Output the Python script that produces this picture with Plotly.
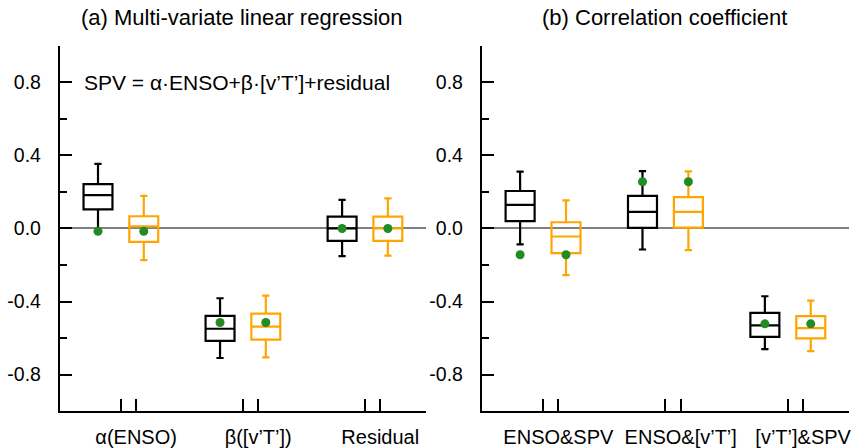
import plotly.graph_objects as go

# ---------------- data ----------------
cats_a = ["α(ENSO)", "β([v’T’])", "Residual"]
cats_b = ["ENSO&SPV", "ENSO&[v’T’]", "[v’T’]&SPV"]

# panel (a) black boxes
a_blk_lo = [-0.015, -0.709, -0.151]
a_blk_q1 = [0.104, -0.615, -0.068]
a_blk_md = [0.182, -0.549, 0.000]
a_blk_q3 = [0.243, -0.478, 0.065]
a_blk_hi = [0.354, -0.382, 0.156]
# panel (a) orange boxes
a_org_lo = [-0.173, -0.706, -0.149]
a_org_q1 = [-0.073, -0.608, -0.068]
a_org_md = [0.011, -0.537, 0.000]
a_org_q3 = [0.067, -0.466, 0.065]
a_org_hi = [0.178, -0.368, 0.165]
# panel (a) observed (green dots)
a_obs = [-0.015, -0.515, 0.000]

# panel (b) black boxes
b_blk_lo = [-0.087, -0.115, -0.660]
b_blk_q1 = [0.040, 0.003, -0.593]
b_blk_md = [0.129, 0.091, -0.531]
b_blk_q3 = [0.205, 0.178, -0.462]
b_blk_hi = [0.311, 0.314, -0.371]
# panel (b) orange boxes
b_org_lo = [-0.255, -0.118, -0.671]
b_org_q1 = [-0.135, 0.005, -0.602]
b_org_md = [-0.044, 0.091, -0.546]
b_org_q3 = [0.034, 0.172, -0.480]
b_org_hi = [0.154, 0.313, -0.395]
# panel (b) observed (green dots)
b_obs = [-0.144, 0.256, -0.522]

y_major = [-0.8, -0.4, 0.0, 0.4, 0.8]
y_labels = ["-0.8", "-0.4", "0.0", "0.4", "0.8"]

# ---------------- layout helpers ----------------
groups = [1, 2, 3]
off = 0.1875
pos_blk = [g - off for g in groups]
pos_org = [g + off for g in groups]
BLACK = "#000000"
ORANGE = "#FFA500"
GREEN = "#228B22"
FONT = "Liberation Sans, Arial, Helvetica, sans-serif"

fig = go.Figure()


def add_box(xs, lo, q1, md, q3, hi, color, xa, ya):
    fig.add_trace(go.Box(
        x=xs, lowerfence=lo, q1=q1, median=md, q3=q3, upperfence=hi,
        width=0.237, whiskerwidth=0.25,
        line=dict(color=color, width=2.2),
        fillcolor="rgba(0,0,0,0)", boxpoints=False,
        hoverinfo="skip", xaxis=xa, yaxis=ya))


add_box(pos_blk, a_blk_lo, a_blk_q1, a_blk_md, a_blk_q3, a_blk_hi, BLACK, "x", "y")
add_box(pos_org, a_org_lo, a_org_q1, a_org_md, a_org_q3, a_org_hi, ORANGE, "x", "y")
add_box(pos_blk, b_blk_lo, b_blk_q1, b_blk_md, b_blk_q3, b_blk_hi, BLACK, "x2", "y2")
add_box(pos_org, b_org_lo, b_org_q1, b_org_md, b_org_q3, b_org_hi, ORANGE, "x2", "y2")

fig.add_trace(go.Scatter(x=pos_blk + pos_org, y=a_obs + a_obs, mode="markers",
                         marker=dict(color=GREEN, size=9), xaxis="x", yaxis="y"))
fig.add_trace(go.Scatter(x=pos_blk + pos_org, y=b_obs + b_obs, mode="markers",
                         marker=dict(color=GREEN, size=9), xaxis="x2", yaxis="y2"))


def xaxis_cfg(cats, domain, anchor):
    tv, tt = [], []
    for g, c in zip(groups, cats):
        tv += [g, g + 0.125]
        tt += ["", c]
    return dict(domain=domain, anchor=anchor, range=[0.5, 3.5],
                tickmode="array", tickvals=tv, ticktext=tt,
                ticks="inside", ticklen=12, tickwidth=1.6, tickcolor=BLACK,
                showline=True, linecolor=BLACK, linewidth=2,
                showgrid=False, zeroline=False, ticklabelstandoff=7,
                tickfont=dict(family=FONT, size=20, color=BLACK))


def yaxis_cfg(domain, anchor):
    return dict(domain=domain, anchor=anchor, range=[-1, 1],
                tickmode="array", tickvals=y_major, ticktext=y_labels,
                ticks="inside", ticklen=12, tickwidth=1.6, tickcolor=BLACK,
                minor=dict(ticks="inside", ticklen=7, tickwidth=1.6,
                           tickcolor=BLACK, dtick=0.2, tick0=0, showgrid=False),
                showline=True, linecolor=BLACK, linewidth=2,
                showgrid=False, zeroline=True, zerolinecolor="#808080",
                zerolinewidth=1.5, ticklabelstandoff=13,
                tickfont=dict(family=FONT, size=19.5, color=BLACK))


ydom = [35 / 448, 402 / 448]
fig.update_layout(
    width=854, height=448,
    margin=dict(l=0, r=0, t=0, b=0),
    paper_bgcolor="white", plot_bgcolor="white",
    showlegend=False, boxmode="overlay",
    xaxis=xaxis_cfg(cats_a, [60 / 854, 427 / 854], "y"),
    yaxis=yaxis_cfg(ydom, "x"),
    xaxis2=xaxis_cfg(cats_b, [483 / 854, 851 / 854], "y2"),
    yaxis2=yaxis_cfg(ydom, "x2"),
    annotations=[
        dict(text="(a) Multi-variate linear regression", xref="paper", yref="paper",
             x=243 / 854, y=1 - 18 / 448, xanchor="center", yanchor="middle",
             showarrow=False, font=dict(family=FONT, size=22, color=BLACK)),
        dict(text="(b) Correlation coefficient", xref="paper", yref="paper",
             x=666 / 854, y=1 - 18 / 448, xanchor="center", yanchor="middle",
             showarrow=False, font=dict(family=FONT, size=22, color=BLACK)),
        dict(text="SPV = α·ENSO+β·[v’T’]+residual", xref="paper", yref="paper",
             x=82 / 854, y=1 - 83 / 448, xanchor="left", yanchor="middle",
             showarrow=False, font=dict(family=FONT, size=21, color=BLACK)),
    ],
)

fig.write_html("out.html")
